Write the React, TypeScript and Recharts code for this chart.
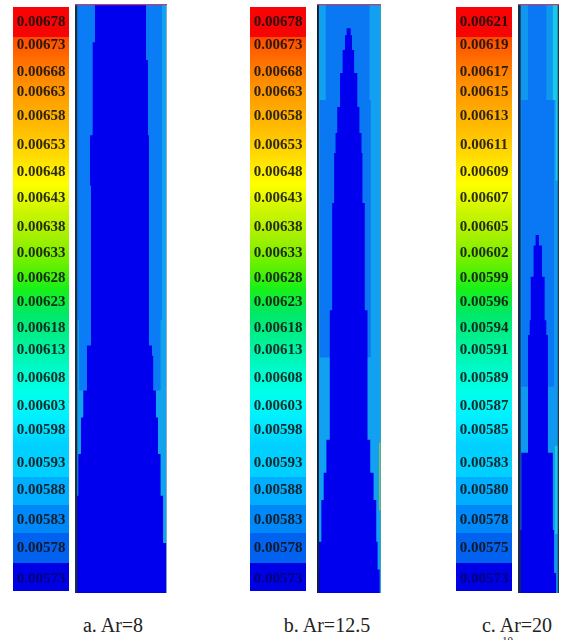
import { Area, Bar, BarChart, ComposedChart, ReferenceLine, XAxis, YAxis } from "recharts";

// colour scale, top to bottom
const bandColors = [
  "#f70505", "#ff4a00", "#ff6a00", "#ff8c00", "#ffa400", "#ffbe00", "#ffdc00", "#ffff00", "#ccf500", "#a0f000", "#68f000",
  "#18f018", "#00e868", "#00f090", "#00f8c0", "#00ffe8", "#00f0ff", "#00d0ff", "#00aeff", "#0088f8", "#0062ee", "#0000e6",
];
const bandHeights = [30, 20, 24, 22, 27, 27, 27, 27, 28, 25, 25, 25, 24, 25, 28, 26, 29, 31, 28, 28, 30, 28];
const labelStations = [14, 37, 64, 84, 108, 137, 164, 190, 219, 245, 270, 294, 320, 342, 370, 398, 422, 455, 482, 512, 540, 571];

const labelsAB = [
  "0.00678", "0.00673", "0.00668", "0.00663", "0.00658", "0.00653", "0.00648", "0.00643", "0.00638", "0.00633", "0.00628",
  "0.00623", "0.00618", "0.00613", "0.00608", "0.00603", "0.00598", "0.00593", "0.00588", "0.00583", "0.00578", "0.00573",
];
const labelsC = [
  "0.00621", "0.00619", "0.00617", "0.00615", "0.00613", "0.00611", "0.00609", "0.00607", "0.00605", "0.00602", "0.00599",
  "0.00596", "0.00594", "0.00591", "0.00589", "0.00587", "0.00585", "0.00583", "0.00580", "0.00578", "0.00575", "0.00573",
];

// contour edges: axial station (% of height from top), lateral edges (% of width)
const aCoreH = [0, 6.5, 9.5, 22.3, 30.8, 58, 59.7, 65.6, 70.2, 76.4, 83.5, 91.5, 100];
const aCoreL = [21.7, 19.2, 19.2, 16.3, 17.4, 13, 13, 9, 6.5, 3.6, 0, 0, 0];
const aCoreR = [77.2, 77.2, 79.3, 80.4, 80.4, 83.7, 85, 88, 90.2, 93, 95.7, 100, 100];
const aMidH = [0, 53.7, 65.6];
const aMidL = [2.5, 4.5, 50];
const aMidR = [94.5, 93, 50];

const bCoreH = [4.1, 5.3, 7.8, 11.7, 17.5, 21.9, 25.3, 33.8, 52, 74, 79.6, 84.2, 91.3, 96, 100];
const bCoreL = [46.3, 43.7, 40, 36, 31.6, 29, 26.8, 23.7, 20, 14.7, 10.5, 6.8, 3.2, 0, 0];
const bCoreR = [52.6, 54.7, 58, 63, 66.3, 69.5, 71, 74.7, 78.9, 83.2, 88.4, 92.6, 94.7, 97.9, 97.9];
const bMidH = [0, 16.3, 60];
const bMidL = [13.7, 4.2, 50];
const bMidR = [82, 84, 50];
const bStreakH = [74.5, 86];
const bStreakL = [97.2, 97.2];
const bStreakR = [99.5, 99.5];

const cCoreH = [39.2, 41, 46.3, 53.7, 56.2, 76.2, 89.3, 96.6, 100];
const cCoreL = [43, 38, 31, 28.5, 24.4, 8, 4, 4, 4];
const cCoreR = [51, 58.5, 65, 69, 73, 85, 88, 93, 96];
const cMidH = [0, 16.3, 65];
const cMidL = [24.4, 8, 50];
const cMidR = [69, 88, 50];
const cEdgeH = [0, 16.3, 30, 75, 90];
const cEdgeL = [85, 92, 97, 90, 97];
const cEdgeR = [97, 97, 97, 97, 97];

const fullH = [0, 100];
const fullL = [0, 0];
const fullR = [100, 100];

type Layer = { h: number[]; l: number[]; r: number[]; color: string };

const rows = (h: number[], l: number[], r: number[]) => h.map((v, i) => ({ h: v, range: [l[i], r[i]] }));

function ColorBar({ left, labels }: { left: number; labels: string[] }) {
  const row: Record<string, number | string> = { name: "level" };
  bandHeights.forEach((v, i) => (row["b" + i] = v));
  const total = bandHeights.reduce((a, b) => a + b, 0);
  const width = 57;
  return (
    <div style={{ position: "absolute", left: left - 1, top: 7 }}>
      <BarChart width={width} height={total} data={[row]} margin={{ top: 0, right: 0, bottom: 0, left: 0 }} barCategoryGap={0}>
        <defs>
          {bandColors.map((c, i) => (
            <linearGradient key={c} id={"band" + i} x1="0" y1="0" x2="0" y2="1">
              <stop offset="0" stopColor={c} />
              {/* red cap and the blue end keep hard steps, the middle runs on */}
              <stop offset="1" stopColor={i > 0 && i < 17 ? bandColors[i + 1] : c} />
            </linearGradient>
          ))}
        </defs>
        <XAxis dataKey="name" hide />
        <YAxis
          type="number"
          reversed
          domain={[0, total]}
          ticks={labelStations}
          interval={0}
          width={1}
          axisLine={false}
          tickLine={false}
          tick={({ y, index }: any) => (
            <text x={(width + 1) / 2} y={y} dy="0.35em" textAnchor="middle" fontFamily="Liberation Serif" fontWeight="bold" fontSize={15} fill={index === 21 ? "#00006a" : "#101010"} fillOpacity={0.88}>
              {labels[index]}
            </text>
          )}
        />
        {bandColors.map((c, i) => (
          <Bar key={c} dataKey={"b" + i} stackId="bar" fill={`url(#band${i})`} isAnimationActive={false} />
        ))}
      </BarChart>
    </div>
  );
}

function Field({ left, width, layers, wallL, wallR, wallLColor, wallRColor }: { left: number; width: number; layers: Layer[]; wallL: number; wallR: number; wallLColor: string; wallRColor: string }) {
  const all: Layer[] = [
    ...layers,
    { h: fullH, l: fullL, r: [wallL, wallL], color: wallLColor },
    { h: fullH, l: [wallR, wallR], r: fullR, color: wallRColor },
  ];
  return (
    <div style={{ position: "absolute", left, top: 4 }}>
      <ComposedChart layout="vertical" width={width} height={589} margin={{ top: 0, right: 0, bottom: 0, left: 0 }}>
        <XAxis type="number" domain={[0, 100]} hide />
        <YAxis type="number" dataKey="h" domain={[0, 100]} hide />
        {all.map((s, i) => (
          <Area
            key={i}
            data={rows(s.h, s.l, s.r)}
            dataKey="range"
            type="stepBefore"
            stroke="none"
            fill={s.color}
            fillOpacity={1}
            dot={false}
            activeDot={false}
            isAnimationActive={false}
          />
        ))}
        <ReferenceLine y={0} stroke="#b8407a" strokeWidth={2.4} />
      </ComposedChart>
    </div>
  );
}

const captionStyle: React.CSSProperties = {
  position: "absolute",
  top: 613,
  fontFamily: "Liberation Serif",
  fontSize: 20,
  lineHeight: "24px",
  color: "#222",
  whiteSpace: "nowrap",
  transform: "translateX(-50%)",
};

export default function App() {
  return (
    <div style={{ position: "relative", width: 561, height: 640, overflow: "hidden", background: "#fff" }}>
      <style>{`body{margin:0} .recharts-surface{filter:blur(0.6px)}`}</style>
      <ColorBar left={13} labels={labelsAB} />
      <ColorBar left={250} labels={labelsAB} />
      <ColorBar left={456} labels={labelsC} />
      <Field
        left={75}
        width={92}
        wallL={2.5}
        wallR={99}
        wallLColor="#1c2c44"
        wallRColor="#8fb0c8"
        layers={[
          { h: fullH, l: fullL, r: fullR, color: "#12a2ee" },
          { h: aMidH, l: aMidL, r: aMidR, color: "#0a7cf6" },
          { h: aCoreH, l: aCoreL, r: aCoreR, color: "#0000ee" },
        ]}
      />
      <Field
        left={317}
        width={64}
        wallL={3}
        wallR={99}
        wallLColor="#14202e"
        wallRColor="#50a098"
        layers={[
          { h: fullH, l: fullL, r: fullR, color: "#12a0f0" },
          { h: bMidH, l: bMidL, r: bMidR, color: "#0a78f2" },
          { h: bCoreH, l: bCoreL, r: bCoreR, color: "#0000ee" },
          { h: bStreakH, l: bStreakL, r: bStreakR, color: "#9cc848" },
        ]}
      />
      <Field
        left={518}
        width={41}
        wallL={6.5}
        wallR={97}
        wallLColor="#1a2c44"
        wallRColor="#203848"
        layers={[
          { h: fullH, l: fullL, r: fullR, color: "#1098f0" },
          { h: cEdgeH, l: cEdgeL, r: cEdgeR, color: "#18c8e8" },
          { h: cMidH, l: cMidL, r: cMidR, color: "#0a78f4" },
          { h: cCoreH, l: cCoreL, r: cCoreR, color: "#0000ee" },
        ]}
      />
      <div style={{ ...captionStyle, left: 113 }}>a. Ar=8</div>
      <div style={{ ...captionStyle, left: 327 }}>b. Ar=12.5</div>
      <div style={{ ...captionStyle, left: 517 }}>c. Ar=20</div>
      <div style={{ position: "absolute", left: 502, top: 634, fontFamily: "Liberation Serif", fontSize: 11, color: "#222" }}>10</div>
    </div>
  );
}
